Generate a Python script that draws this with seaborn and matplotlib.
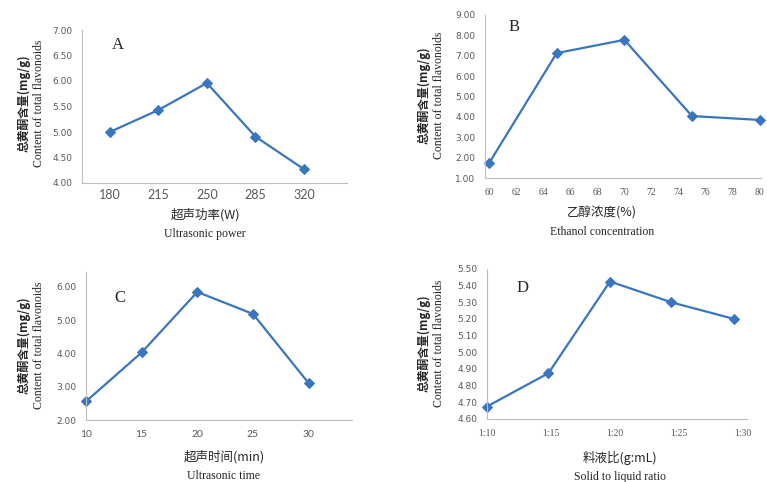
import pandas as pd
import matplotlib
matplotlib.use("Agg")
from matplotlib import pyplot as plt
import seaborn as sns

"""
Four single-factor plots of total flavonoid content (A-D).
"""

############### Data ######################
power = [180, 215, 250, 285, 320]
power_content = [5.00, 5.43, 5.96, 4.91, 4.27]

ethanol = [60, 65, 70, 75, 80]
ethanol_content = [1.73, 7.13, 7.78, 4.04, 3.85]

time_min = [10, 15, 20, 25, 30]
time_content = [2.56, 4.03, 5.85, 5.19, 3.11]

# points sit a little left of the tick marks in the original
ratio_pos = [10, 14.8, 19.6, 24.4, 29.3]
ratio_ticks = [10, 15, 20, 25, 30]
ratio_labels = ["1:10", "1:15", "1:20", "1:25", "1:30"]
ratio_content = [4.675, 4.875, 5.425, 5.30, 5.20]

ylabel_cn = "总黄酮含量(mg/g)"
ylabel_en = "Content of total flavonoids"

############### Plotting #############################
sns.set_style("white")
plt.rcParams['font.family'] = ['Liberation Serif', 'Noto Sans CJK SC']

W, H = 767, 482
fig = plt.figure(figsize=(7.67, 4.82), dpi=100)

line_col = "#3A76C0"
tick_col = "#595959"
spine_col = "#BFBFBF"


def box(l, t, r, b):
    # pixel box -> figure fraction
    return [l / W, 1 - b / H, (r - l) / W, (b - t) / H]


def px(x, y):
    return x / W, 1 - y / H


def panel(rect, x, y, letter, letter_xy, ylim, yticks, xlim, xticks, xtl,
          xfs, xfam, yl_pos, xl_pos, xl_cn, xl_en):
    ax = fig.add_axes(box(*rect))
    df = pd.DataFrame({'x': x, 'y': y})
    sns.lineplot(data=df, x='x', y='y', ax=ax, color=line_col, lw=1.6,
                 marker='D', markersize=5, markeredgecolor=line_col)
    for ln in ax.lines:
        ln.set_clip_on(False)
    ax.set_xlim(*xlim)
    ax.set_ylim(*ylim)
    ax.set_yticks(yticks)
    ax.set_yticklabels(["%.2f" % v for v in yticks], fontsize=6.5,
                       color=tick_col, family='Liberation Sans Narrow')
    ax.set_xticks(xticks)
    ax.set_xticklabels(xtl, fontsize=xfs, color=tick_col, family=xfam)
    sns.despine(ax=ax)
    for s in ['left', 'bottom']:
        ax.spines[s].set_color(spine_col)
        ax.spines[s].set_linewidth(0.8)
    ax.tick_params(axis='both', length=3, width=0.6, color=spine_col, pad=4)
    ax.set_xlabel("")
    ax.set_ylabel("")
    fig.text(*px(*letter_xy), letter, fontsize=12, ha='center', va='center')
    cx, cy = yl_pos
    fig.text(*px(cx, cy), ylabel_cn, rotation=90, fontsize=8.5, ha='center',
             va='center', family='Noto Sans CJK SC', weight='bold')
    fig.text(*px(cx + 15, cy), ylabel_en, rotation=90, fontsize=8.5,
             ha='center', va='center')
    lx, ly = xl_pos
    fig.text(*px(lx, ly), xl_cn, fontsize=9, ha='center', va='center',
             family=['Noto Sans CJK SC', 'Liberation Serif'])
    fig.text(*px(lx, ly + 19), xl_en, fontsize=8.5, ha='center', va='center')
    return ax


axA = panel((82, 30, 347, 183), power, power_content, "A", (118, 45),
            (4, 7), [4, 4.5, 5, 5.5, 6, 6.5, 7], (160, 351), power,
            [str(v) for v in power], 9, 'Lato', (24, 103), (205, 215),
            "超声功率(W)", "Ultrasonic power")
axA.tick_params(axis='x', length=0)
axA.set_xticks([197.5, 232.5, 267.5, 302.5, 337.5], minor=True)
axA.tick_params(axis='x', which='minor', length=3, width=0.6, color=spine_col)

panel((485, 15, 761, 178), ethanol, ethanol_content, "B", (514, 27),
      (1, 9), [1, 2, 3, 4, 5, 6, 7, 8, 9], (59.7, 80.1),
      list(range(60, 81, 2)), [str(v) for v in range(60, 81, 2)], 7,
      'Liberation Serif', (424, 95), (602, 213),
      "乙醇浓度(%)", "Ethanol concentration")

panel((86, 272, 352, 420), time_min, time_content, "C", (120, 298),
      (2, 6.45), [2, 3, 4, 5, 6], (10, 33.9), time_min,
      [str(v) for v in time_min], 7.5, 'Lato', (24, 345), (224, 457),
      "超声时间(min)", "Ultrasonic time")

panel((487, 269, 747, 419), ratio_pos, ratio_content, "D", (523, 288),
      (4.6, 5.5), [4.6, 4.7, 4.8, 4.9, 5.0, 5.1, 5.2, 5.3, 5.4, 5.5],
      (10, 30.3), ratio_ticks, ratio_labels, 7, 'Liberation Serif',
      (424, 343), (620, 458), "料液比(g:mL)", "Solid to liquid ratio")

fig.savefig("out.png", dpi=100)
